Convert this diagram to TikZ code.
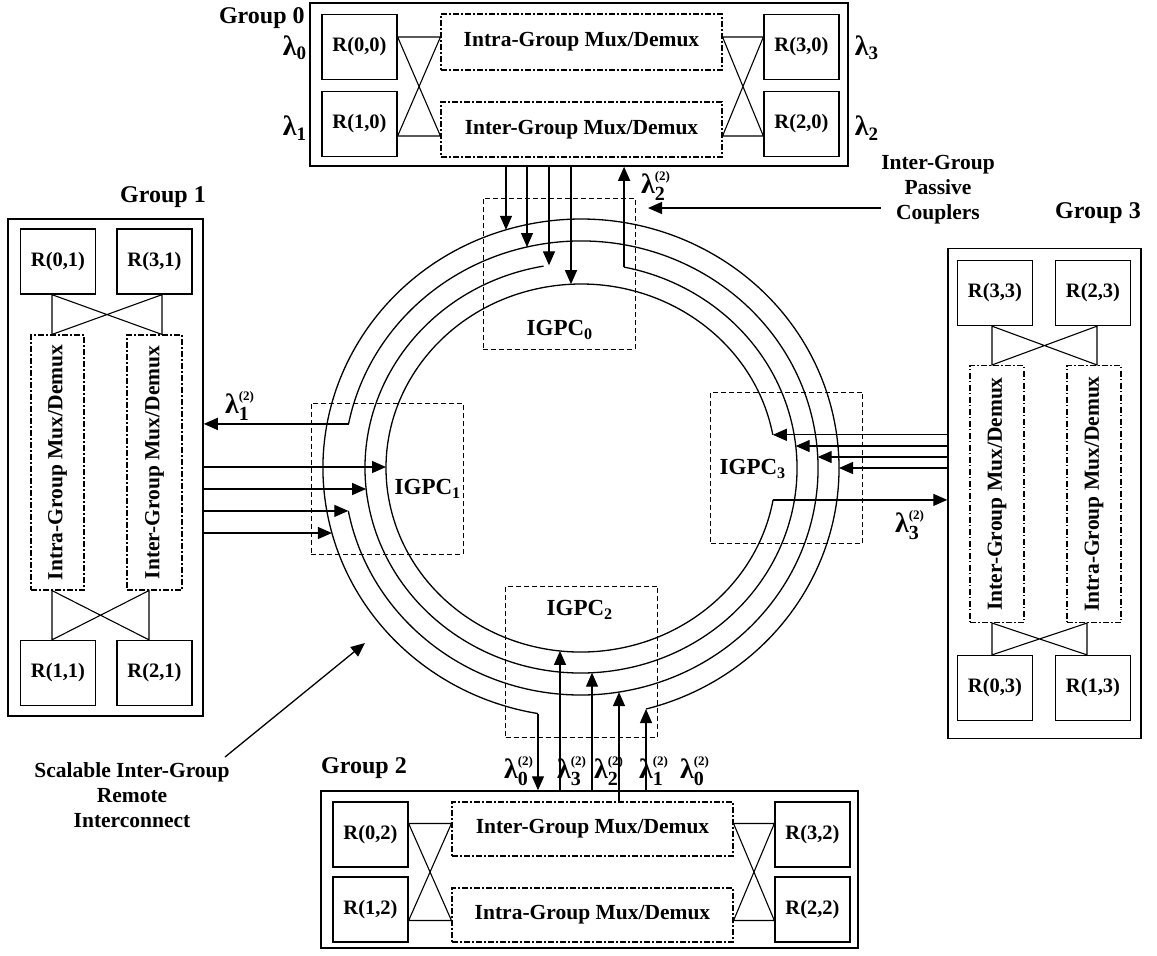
\documentclass[tikz,border=0pt]{standalone}
\usepackage{fontspec}
\setmainfont{Liberation Serif}
\usepackage{graphicx}
\usepackage{tikz}
\usetikzlibrary{arrows.meta}
\tikzset{frame/.style = {draw, line width = 0.75pt, inner sep = 0pt}}
\tikzset{router/.style = {draw, line width = 0.65pt, minimum width = 37.5pt, minimum height = 32.5pt, inner sep = 0pt, font = \bfseries\fontsize{10.25}{12}\selectfont}}
\tikzset{mux/.style = {draw, line width = 0.55pt, dash pattern = on 3pt off 1.2pt on 0.6pt off 1.2pt, inner sep = 0pt, font = \bfseries\fontsize{10.75}{12}\selectfont}}
\tikzset{igpc/.style = {draw, line width = 0.5pt, dash pattern = on 2.5pt off 1.5pt, minimum width = 76pt, minimum height = 75.5pt}}
\tikzset{lbl/.style = {font = \bfseries\fontsize{10.75}{12.5}\selectfont, align = center, inner sep = 0pt}}
\tikzset{glbl/.style = {font = \bfseries\fontsize{12}{14}\selectfont, inner sep = 0pt}}
\tikzset{wave/.style = {font = \bfseries\fontsize{14}{16}\selectfont, inner sep = 0pt}}
\tikzset{edge/.style = {-{Triangle[length = 7pt, width = 6pt]}, line width = 0.65pt}}
\tikzset{ring/.style = {line width = 0.65pt}}
\tikzset{bow/.style = {line width = 0.55pt}}
\newcommand{\laz}[1]{$\mbox{λ}_{\mbox{\fontsize{9.5}{9.5}\selectfont#1}}$}
\newcommand{\lamtwo}[1]{$\mbox{λ}^{\mbox{\fontsize{6.5}{6.5}\selectfont(2)}}_{\mbox{\fontsize{10}{10}\selectfont#1}}$}

\begin{document}
\begin{tikzpicture}[x = 0.5pt, y = -0.5pt]
	\useasboundingbox (0,0) rectangle (1157,955);

	% Group 0
	\node[frame, minimum width = 269pt, minimum height = 81.5pt] (g0) at (579,84.5) {};
	\node[glbl, anchor = east] (g0l) at (305,18) {Group 0};
	\node[router] (r00) at (359.5,47) {R(0,0)};
	\node[router] (r10) at (359.5,124) {R(1,0)};
	\node[router] (r30) at (801.5,47) {R(3,0)};
	\node[router] (r20) at (801.5,124) {R(2,0)};
	\node[mux, minimum width = 140.5pt, minimum height = 28pt] (intra0) at (581.5,42) {Intra-Group Mux/Demux};
	\node[mux, minimum width = 140.5pt, minimum height = 27.5pt] (inter0) at (581.5,129.5) {Inter-Group Mux/Demux};
	\node[wave] (w00) at (295,48) {\laz{0}};
	\node[wave] (w10) at (295,128) {\laz{1}};
	\node[wave] (w30) at (867,48) {\laz{3}};
	\node[wave] (w20) at (867,128) {\laz{2}};
	\path ([yshift = 5pt]r00.east) coordinate (a1) ([yshift = -6pt]r10.east) coordinate (a2);
	\draw[bow] (a1) -- (a1 -| intra0.west) -- (a2) -- (a2 -| inter0.west) -- cycle;
	\path ([yshift = 5pt]r30.west) coordinate (b1) ([yshift = -6pt]r20.west) coordinate (b2);
	\draw[bow] (b1) -- (b1 -| intra0.east) -- (b2) -- (b2 -| inter0.east) -- cycle;

	% Group 1
	\node[frame, minimum width = 97.5pt, minimum height = 248.5pt] (g1) at (105.5,467.5) {};
	\node[glbl] (g1l) at (163,197) {Group 1};
	\node[router] (r01) at (58,261.5) {R(0,1)};
	\node[router] (r31) at (154.5,261.5) {R(3,1)};
	\node[router] (r11) at (58,673) {R(1,1)};
	\node[router] (r21) at (154.5,673) {R(2,1)};
	\node[mux, minimum width = 26.5pt, minimum height = 127.5pt] (intra1) at (57.5,462.5) {\rotatebox{90}{Intra-Group Mux/Demux}};
	\node[mux, minimum width = 27.5pt, minimum height = 127.5pt] (inter1) at (154.5,462.5) {\rotatebox{90}{Inter-Group Mux/Demux}};
	\path ([xshift = -3pt]r01.south) coordinate (d1) ([xshift = 3.75pt]r31.south) coordinate (d2);
	\draw[bow] (d1) -- (d1 |- intra1.north) -- (d2) -- (d2 |- inter1.north) -- cycle;
	\path ([xshift = -3pt]r11.north) coordinate (e1) ([xshift = -2.75pt]r21.north) coordinate (e2);
	\draw[bow] (e1) -- (e1 |- intra1.south) -- (e2) -- (e2 |- inter1.south) -- cycle;

	% Group 2
	\node[frame, minimum width = 268.5pt, minimum height = 78.5pt] (g2) at (589.5,869.5) {};
	\node[glbl] (g2l) at (364,768) {Group 2};
	\node[router] (r02) at (370.5,834.5) {R(0,2)};
	\node[router] (r12) at (370.5,909.5) {R(1,2)};
	\node[router] (r32) at (812.5,834.5) {R(3,2)};
	\node[router] (r22) at (812.5,909.5) {R(2,2)};
	\node[mux, minimum width = 140.5pt, minimum height = 27pt] (inter2) at (592.5,829) {Inter-Group Mux/Demux};
	\node[mux, minimum width = 140.5pt, minimum height = 27pt] (intra2) at (592.5,915) {Intra-Group Mux/Demux};
	\path ([yshift = 5.5pt]r02.east) coordinate (f1) ([yshift = -5.5pt]r12.east) coordinate (f2);
	\draw[bow] (f1) -- (f1 -| inter2.west) -- (f2) -- (f2 -| intra2.west) -- cycle;
	\path ([yshift = 5.5pt]r32.west) coordinate (h1) ([yshift = -5.5pt]r22.west) coordinate (h2);
	\draw[bow] (h1) -- (h1 -| inter2.east) -- (h2) -- (h2 -| intra2.east) -- cycle;

	% Group 3
	\node[frame, minimum width = 96.5pt, minimum height = 245pt] (g3) at (1044.5,493.5) {};
	\node[glbl] (g3l) at (1098,213) {Group 3};
	\node[router] (r33) at (995,293) {R(3,3)};
	\node[router] (r23) at (1093,293) {R(2,3)};
	\node[router] (r03) at (995,688) {R(0,3)};
	\node[router] (r13) at (1093,688) {R(1,3)};
	\node[mux, minimum width = 27pt, minimum height = 128.5pt] (inter3) at (997,494) {\rotatebox{90}{Inter-Group Mux/Demux}};
	\node[mux, minimum width = 27pt, minimum height = 128.5pt] (intra3) at (1094,494) {\rotatebox{90}{Intra-Group Mux/Demux}};
	\path ([xshift = -1.5pt]r33.south) coordinate (k1) ([xshift = 2pt]r23.south) coordinate (k2);
	\draw[bow] (k1) -- (k1 |- inter3.north) -- (k2) -- (k2 |- intra3.north) -- cycle;
	\path ([xshift = -1.5pt]r03.north) coordinate (m1) ([xshift = -3pt]r13.north) coordinate (m2);
	\draw[bow] (m1) -- (m1 |- inter3.south) -- (m2) -- (m2 |- intra3.south) -- cycle;

	% couplers
	\node[igpc] (igpc0) at (559,273.5) {};
	\node[igpc] (igpc1) at (387,478.5) {};
	\node[igpc] (igpc2) at (581.5,661.5) {};
	\node[igpc] (igpc3) at (786.5,467.5) {};
	\node[lbl, font = \bfseries\fontsize{11.5}{13}\selectfont] (igpc0l) at (560,330) {IGPC\textsubscript{0}};
	\node[lbl, font = \bfseries\fontsize{11.5}{13}\selectfont] (igpc1l) at (428,489) {IGPC\textsubscript{1}};
	\node[lbl, font = \bfseries\fontsize{11.5}{13}\selectfont] (igpc2l) at (580,610) {IGPC\textsubscript{2}};
	\node[lbl, font = \bfseries\fontsize{11.5}{13}\selectfont] (igpc3l) at (753,469) {IGPC\textsubscript{3}};

	% rings
	\coordinate (o0a) at (646,709);
	\coordinate (o0b) at (538,713.5);
	\coordinate (o1a) at (348.3,510.9);
	\coordinate (o1b) at (348.5,423.9);
	\coordinate (o2a) at (543.5,266.1);
	\coordinate (o2b) at (624.1,267.1);
	\coordinate (o3a) at (772.8,434.8);
	\coordinate (o3b) at (773,499.9);
	\draw[ring] (o0a) arc[start angle = -284.6, end angle = -620.4, x radius = 258, y radius = 249];
	\draw[ring] (o1a) arc[start angle = -190.9, end angle = -528.8, x radius = 237, y radius = 227];
	\draw[ring] (o2a) arc[start angle = -100, end angle = -438.5, x radius = 216, y radius = 205];
	\draw[ring] (o3a) arc[start angle = -10.4, end angle = -350, x radius = 195, y radius = 184];

	% top
	\coordinate (ta) at (506,229.8);
	\coordinate (tb) at (527,247);
	\coordinate (tc) at (549,265.3);
	\coordinate (td) at (571,284.2);
	\draw[edge] (ta |- g0.south) -- (ta);
	\draw[edge] (tb |- g0.south) -- (tb);
	\draw[edge] (tc |- g0.south) -- (tc);
	\draw[edge] (td |- g0.south) -- (td);
	\draw[edge] (o2b) -- (o2b |- g0.south);
	\node[wave] (w22) at (656,186) {\lamtwo{2}};

	% left
	\coordinate (la) at (386,467);
	\coordinate (lb) at (366.1,489);
	\coordinate (ld) at (331.9,533);
	\draw[edge] (o1b) -- (o1b -| g1.east);
	\draw[edge] (g1.east |- la) -- (la);
	\draw[edge] (g1.east |- lb) -- (lb);
	\draw[edge] (g1.east |- o1a) -- (o1a);
	\draw[edge] (g1.east |- ld) -- (ld);
	\node[wave] (w12) at (240,406) {\lamtwo{1}};

	% right
	\coordinate (rb) at (795.7,446);
	\coordinate (rc) at (817.7,457);
	\coordinate (rd) at (839,468);
	\draw[edge] (g3.west |- o3a) -- (o3a);
	\draw[edge] (g3.west |- rb) -- (rb);
	\draw[edge] (g3.west |- rc) -- (rc);
	\draw[edge] (g3.west |- rd) -- (rd);
	\draw[edge] (o3b) -- (o3b -| g3.west);
	\node[wave] (w32) at (910,525) {\lamtwo{3}};

	% bottom
	\coordinate (ba) at (560,650.9);
	\coordinate (bb) at (592,672.7);
	\coordinate (bc) at (619,692.1);
	\draw[edge] (o0b) -- (o0b |- g2.north);
	\draw[edge] (ba |- g2.north) -- (ba);
	\draw[edge] (bb |- g2.north) -- (bb);
	\draw[edge] (bc |- inter2.north) -- (bc);
	\draw[edge] (o0a |- g2.north) -- (o0a);
	\node[wave] (wb0) at (519,771) {\lamtwo{0}};
	\node[wave] (wb3) at (572,771) {\lamtwo{3}};
	\node[wave] (wb2) at (609,771) {\lamtwo{2}};
	\node[wave] (wb1) at (654,771) {\lamtwo{1}};
	\node[wave] (wb4) at (695,771) {\lamtwo{0}};

	% labels
	\node[lbl] (cpl) at (938,190) {Inter-Group\\Passive\\Couplers};
	\coordinate (cpt) at (648,208);
	\draw[edge] (cpl.west |- cpt) -- (cpt);
	\node[lbl] (sri) at (132,795) {Scalable Inter-Group\\Remote\\Interconnect};
	\coordinate (sra) at (225,757);
	\coordinate (srb) at (365,643);
	\draw[edge] (sra) -- (srb);
\end{tikzpicture}
\end{document}
